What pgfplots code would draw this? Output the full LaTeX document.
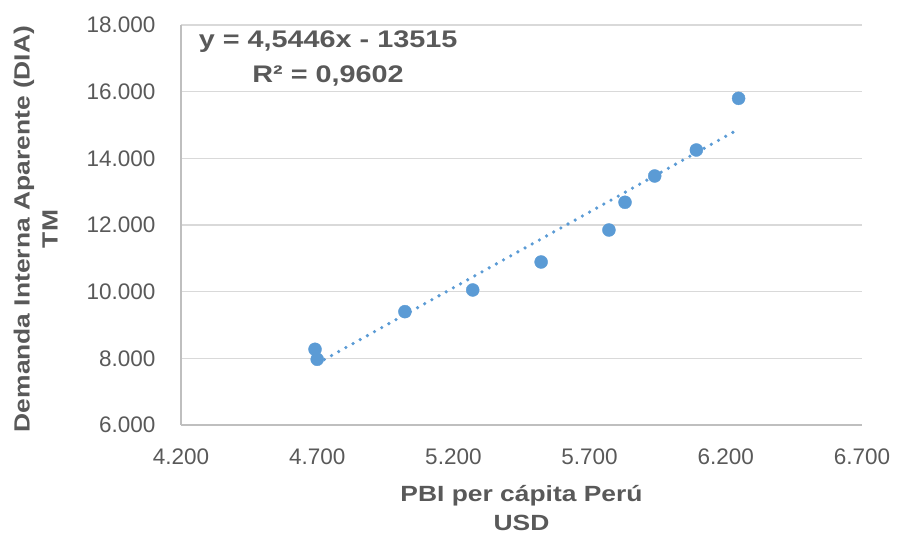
\documentclass[border=0pt]{standalone}
\usepackage{fontspec}
\setmainfont{Liberation Sans}
\newfontfamily\widebf[FakeStretch=1.2]{Liberation Sans}
\usepackage{pgfplots}
\pgfplotsset{compat=1.18}
\definecolor{txtgray}{HTML}{595959}
\definecolor{gridgray}{HTML}{D9D9D9}
\definecolor{axgray}{HTML}{BFBFBF}
\definecolor{ptblue}{HTML}{5B9BD5}
\begin{document}
\begin{tikzpicture}
\begin{axis}[
  scale only axis,
  width=681pt, height=400pt,
  xmin=4200, xmax=6700, ymin=6000, ymax=18000,
  xtick={4200,4700,5200,5700,6200,6700},
  ytick={6000,8000,10000,12000,14000,16000,18000},
  scaled y ticks=false, scaled x ticks=false,
  axis x line*=bottom, axis y line*=left,
  axis line style={draw=axgray, line width=1.2pt},
  tick style={draw=none},
  ymajorgrids, grid style={draw=gridgray, line width=1.4pt},
  /pgf/number format/.cd, use comma, 1000 sep={.}, assume math mode=true,
  /pgfplots/.cd,
  tick label style={font=\fontsize{22.5}{27}\selectfont, text=txtgray},
  xticklabel style={yshift=-20pt},
  yticklabel style={xshift=-22pt},
  xlabel={PBI per cápita Perú\\USD},
  xlabel style={font=\widebf\bfseries\fontsize{22}{29}\selectfont, text=txtgray, align=center,
    at={(axis description cs:0.5,0)}, anchor=north, yshift=-57pt},
  ylabel={Demanda Interna Aparente (DIA)\\TM},
  ylabel style={font=\widebf\bfseries\fontsize{22}{28}\selectfont, text=txtgray, align=center,
    at={(axis description cs:-0.2135,0.49)}, anchor=center},
  clip=false,
]
\addplot[only marks, mark=*, mark size=6.5pt, mark options={draw=ptblue, fill=ptblue}]
coordinates {
(4692,8271) (4700,7971) (5022,9400) (5271,10050) (5522,10890)
(5771,11850) (5830,12681) (5939,13470) (6092,14250) (6247,15800)
};
\addplot[ptblue, line width=3.6pt, line cap=round, dash pattern=on 0pt off 8.2pt]
coordinates {(4700,7845) (6247,14875)};
\node[font=\widebf\bfseries\fontsize{24}{35}\selectfont, text=txtgray, align=center]
  at (axis description cs:0.216,0.916) {y = 4,5446x - 13515\\R² = 0,9602};
\end{axis}
\pgfresetboundingbox
\path[use as bounding box] (current axis.south west) ++(-181pt,-109pt) rectangle ++(898pt,534pt);
\end{tikzpicture}
\end{document}
